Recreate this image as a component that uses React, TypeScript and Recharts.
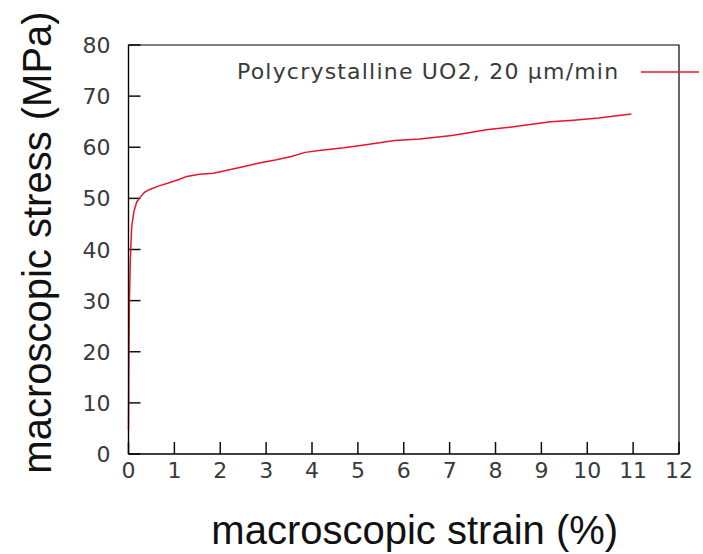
import { LineChart, Line, XAxis, YAxis, ReferenceArea, CartesianGrid } from "recharts";

const STRAIN = [
  0, 0.01, 0.02, 0.04, 0.07, 0.12, 0.18, 0.25, 0.35, 0.45, 0.65, 0.87, 1.1, 1.27,
  1.55, 1.85, 2.2, 2.5, 2.85, 3.2, 3.55, 3.85, 4.2, 4.7, 5.25, 5.8, 6.35, 7.05,
  7.45, 7.8, 8.2, 8.55, 9.2, 9.7, 10.25, 10.6, 10.96,
];
const STRESS = [
  4.7, 20, 30, 38, 44.5, 47.5, 49.3, 50.2, 51.2, 51.7, 52.4, 53, 53.7, 54.3,
  54.7, 54.9, 55.6, 56.2, 56.9, 57.5, 58.2, 59, 59.4, 59.9, 60.6, 61.3, 61.6, 62.3,
  62.9, 63.4, 63.8, 64.2, 65, 65.3, 65.7, 66.1, 66.5,
];
const X_TICKS = [0, 1, 2, 3, 4, 5, 6, 7, 8, 9, 10, 11, 12];
const Y_TICKS = [0, 10, 20, 30, 40, 50, 60, 70, 80];
const SERIES_NAME = "Polycrystalline UO2, 20 µm/min";

const data = STRAIN.map((s, i) => ({ strain: s, stress: STRESS[i] }));

const W = 703;
const H = 554;
const M = { top: 45, right: 24, left: 128.5, bottom: 100 };
const PLOT_W = W - M.left - M.right;
const PLOT_H = H - M.top - M.bottom;
const TICK = 12;

const FONT = "'DejaVu Sans', sans-serif";
const TITLE_FONT = "'Liberation Sans', Arial, sans-serif";
const RED = "#e8142c";
const TICK_COLOR = "#3a3a3a";

function XTick(props: any) {
  const { x, y, payload } = props;
  return (
    <text x={x} y={y + 24} textAnchor="middle" fontSize={22} fill={TICK_COLOR} fontFamily={FONT}>
      {payload.value}
    </text>
  );
}

function YTick(props: any) {
  const { x, y, payload } = props;
  return (
    <text x={x - 18} y={y + 8} textAnchor="end" fontSize={22} fill={TICK_COLOR} fontFamily={FONT}>
      {payload.value}
    </text>
  );
}

function XTitle(props: any) {
  const { viewBox } = props;
  return (
    <text x={viewBox.x + viewBox.width / 2 + 11} y={544} textAnchor="middle" fontSize={40} fill="#111" fontFamily={TITLE_FONT}>
      macroscopic strain (%)
    </text>
  );
}

function YTitle(props: any) {
  const { viewBox } = props;
  const cx = 51;
  const cy = viewBox.y + viewBox.height / 2 - 7;
  return (
    <text x={cx} y={cy} transform={`rotate(-90, ${cx}, ${cy})`} textAnchor="middle" fontSize={40} fill="#111" fontFamily={TITLE_FONT}>
      macroscopic stress (MPa)
    </text>
  );
}

export default function App() {
  return (
    <div style={{ position: "absolute", left: 0, top: 0, width: W, height: H, background: "#fff" }}>
      <LineChart width={W} height={H} data={data} margin={{ top: M.top, right: M.right, left: 0, bottom: 0 }}>
        {/* inward ticks: grid lines dashed so only the short piece next to the axis shows */}
        <CartesianGrid
          horizontal={false}
          stroke="#111"
          strokeWidth={1.5}
          strokeDasharray={`0 ${PLOT_H - TICK} ${TICK} 0`}
        />
        <CartesianGrid
          vertical={false}
          stroke="#111"
          strokeWidth={1.5}
          strokeDasharray={`${TICK} ${PLOT_W}`}
        />
        <XAxis
          dataKey="strain"
          type="number"
          domain={[0, 12]}
          ticks={X_TICKS}
          interval={0}
          height={M.bottom}
          tickSize={0}
          tickMargin={0}
          tickLine={false}
          axisLine={{ stroke: "#000", strokeWidth: 1.2 }}
          tick={<XTick />}
          label={<XTitle />}
        />
        <YAxis
          type="number"
          domain={[0, 80]}
          ticks={Y_TICKS}
          interval={0}
          width={M.left}
          tickSize={0}
          tickMargin={0}
          tickLine={false}
          axisLine={{ stroke: "#000", strokeWidth: 1.2 }}
          tick={<YTick />}
          label={<YTitle />}
        />
        <ReferenceArea x1={0} x2={12} y1={0} y2={80} stroke="#000" strokeWidth={1.2} fill="none" fillOpacity={0} ifOverflow="visible" />
        <Line
          dataKey="stress"
          name={SERIES_NAME}
          type="linear"
          stroke={RED}
          strokeWidth={1.5}
          dot={false}
          isAnimationActive={false}
        />
      </LineChart>
      <div
        style={{
          position: "absolute",
          left: 237,
          top: 59,
          display: "flex",
          alignItems: "center",
          fontFamily: FONT,
          fontSize: 22,
          letterSpacing: 1.2,
          color: TICK_COLOR,
          whiteSpace: "nowrap",
        }}
      >
        <span>{SERIES_NAME}</span>
        <svg width={60} height={10} style={{ marginLeft: 22 }}>
          <line x1={0} y1={5} x2={58} y2={5} stroke={RED} strokeWidth={1.5} />
        </svg>
      </div>
    </div>
  );
}
